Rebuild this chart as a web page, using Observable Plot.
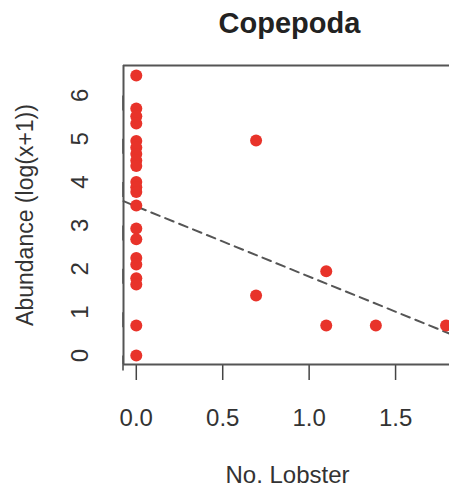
<!DOCTYPE html>
<html>
<head>
<meta charset="utf-8">
<script src="https://cdn.jsdelivr.net/npm/d3@7"></script>
<script src="https://cdn.jsdelivr.net/npm/@observablehq/plot@0.6"></script>
<style>
  html, body { margin: 0; padding: 0; background: #fff; overflow: hidden; }
  svg { display: block; }
</style>
</head>
<body>
<div id="chart"></div>
<script>
const title = "Copepoda";
const xLabel = "No. Lobster";
const yLabel = "Abundance (log(x+1))";

// log(x+1) values
const lobster = [
  0, 0, 0, 0, 0, 0, 0, 0, 0, 0, 0, 0, 0, 0, 0, 0, 0, 0, 0, 0, 0,
  0.693, 0.693, 1.099, 1.099, 1.386, 1.792
];
const abundance = [
  6.46, 5.70, 5.52, 5.35, 4.95, 4.80, 4.65, 4.50, 4.37, 4.00, 3.88, 3.77, 3.46,
  2.93, 2.68, 2.25, 2.10, 1.78, 1.64, 0.69, 0.00,
  4.96, 1.386, 1.946, 0.693, 0.693, 0.693
];

// fitted line
const fitIntercept = 3.44;
const fitSlope = -1.62;

const xTicks = [0, 0.5, 1, 1.5];
const yTicks = [0, 1, 2, 3, 4, 5, 6];

const xDomain = [-0.074, 1.812];
const yDomain = [-0.208, 6.69];

const points = lobster.map((x, i) => ({x, y: abundance[i]}));
const fit = xDomain.map(x => ({x, y: fitIntercept + fitSlope * x}));

const font = "'Liberation Sans', Arial, sans-serif";
const ink = "#333";

const chart = Plot.plot({
  width: 449,
  height: 488,
  marginLeft: 123,
  marginRight: 0,
  marginTop: 65,
  marginBottom: 124,
  style: {fontFamily: font, color: ink, background: "#fff", overflow: "visible"},
  x: {domain: xDomain, ticks: xTicks},
  y: {domain: yDomain, ticks: yTicks},
  marks: [
    Plot.axisX({ticks: xTicks, tickSize: 16, tickPadding: 28, tickFormat: d3.format(".1f"),
      fontSize: 24, stroke: "#444", strokeWidth: 1.5, label: null}),
    Plot.axisY({ticks: yTicks, tickSize: 15, tickPadding: 28, rotate: -90, textAnchor: "middle",
      tickFormat: d3.format("d"),
      fontSize: 24, stroke: "#444", strokeWidth: 1.5, label: null}),
    Plot.line(fit, {x: "x", y: "y", stroke: "#555", strokeWidth: 2, strokeDasharray: "9,6"}),
    Plot.dot(points, {x: "x", y: "y", r: 6, fill: "#e8332a", stroke: "none"}),
    Plot.ruleY([yDomain[1]], {stroke: "#555", strokeWidth: 2}),
    Plot.ruleY([yDomain[0]], {stroke: "#555", strokeWidth: 2}),
    Plot.ruleX([xDomain[0]], {stroke: "#555", strokeWidth: 2}),
    Plot.text([title], {frameAnchor: "top", dy: -42, dx: 3, lineAnchor: "middle", textAnchor: "middle",
      fontSize: 29, fontWeight: "bold", fill: "#222"}),
    Plot.text([xLabel], {frameAnchor: "bottom", dy: 111, dx: 1, lineAnchor: "middle", textAnchor: "middle",
      fontSize: 24, fill: ink}),
    Plot.text([yLabel], {frameAnchor: "left", dx: -98, rotate: -90, lineAnchor: "middle", textAnchor: "middle",
      fontSize: 23, fill: ink})
  ]
});
document.getElementById("chart").appendChild(chart);
</script>
</body>
</html>
